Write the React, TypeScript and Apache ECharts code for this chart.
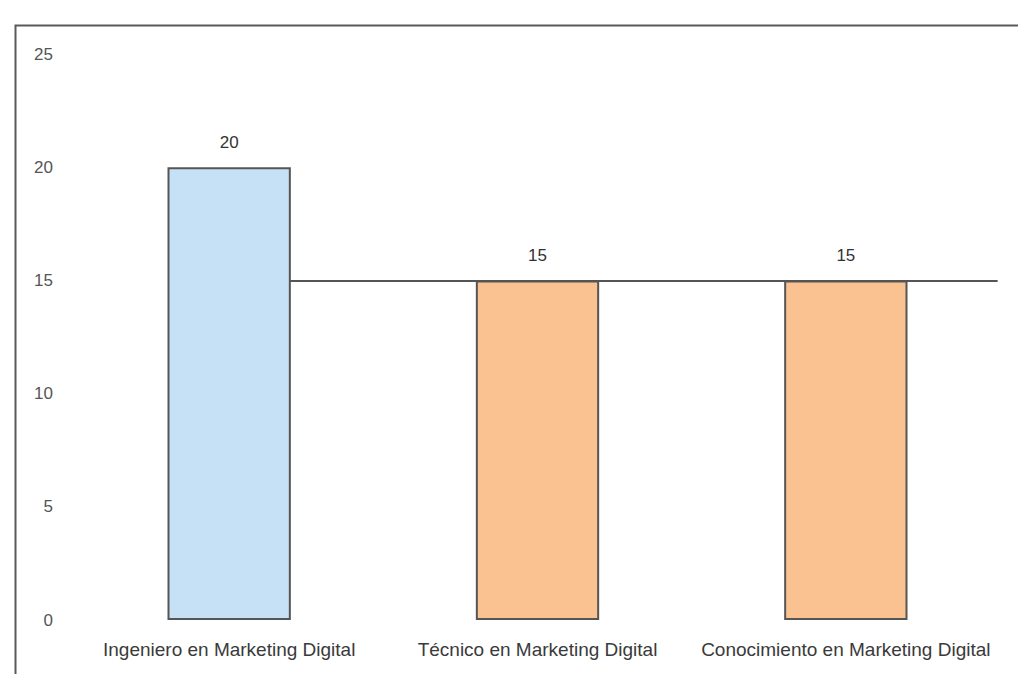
import React, { useEffect, useRef } from "react";
import * as echarts from "echarts";

const categories = [
  "Ingeniero en Marketing Digital",
  "Técnico en Marketing Digital",
  "Conocimiento en Marketing Digital",
];
const values = [20, 15, 15];
const barColors = ["#c6e0f6", "#f9c290", "#f9c290"];
const referenceValue = 15;
const yMin = 0;
const yMax = 25;
const yStep = 5;

export default function App() {
  const ref = useRef<HTMLDivElement>(null);
  useEffect(() => {
    if (!ref.current) return;
    const chart = echarts.init(ref.current, null, { renderer: "svg" });
    chart.setOption({
      animation: false,
      backgroundColor: "#ffffff",
      textStyle: { fontFamily: "Liberation Sans, Arial, sans-serif" },
      grid: { left: 75, right: 18, top: 54, bottom: 54 },
      graphic: [
        {
          type: "rect",
          left: 13,
          top: 23,
          shape: { width: 1020, height: 660 },
          style: { fill: "none", stroke: "#5a5a5a", lineWidth: 2 },
          z: 0,
        },
      ],
      xAxis: {
        type: "category",
        data: categories,
        axisLine: { show: false },
        axisTick: { show: false },
        axisLabel: {
          color: "#3a3a3a",
          fontSize: 19,
          margin: 20,
          interval: 0,
        },
      },
      yAxis: {
        type: "value",
        min: yMin,
        max: yMax,
        interval: yStep,
        splitLine: { show: false },
        axisLine: { show: false },
        axisTick: { show: false },
        axisLabel: { color: "#555", fontSize: 17, margin: 22 },
      },
      series: [
        {
          type: "line",
          data: [],
          z: 1,
          markLine: {
            silent: true,
            z: 1,
            symbol: "none",
            label: { show: false },
            lineStyle: { color: "#555", width: 2, type: "solid" },
            data: [
              [
                { coord: [0, referenceValue] },
                { coord: [2, referenceValue], x: "98%" },
              ],
            ],
          },
        },
        {
          type: "bar",
          z: 3,
          barWidth: "40%",
          data: values.map((v, i) => ({
            value: v,
            itemStyle: {
              color: barColors[i],
              borderColor: "#555",
              borderWidth: 2,
            },
          })),
          label: {
            show: true,
            position: "top",
            distance: 16,
            color: "#333",
            fontSize: 17,
          },
        },
      ],
    });
    return () => chart.dispose();
  }, []);
  return (
    <div
      ref={ref}
      style={{ position: "fixed", left: 0, top: 0, width: 1018, height: 674 }}
    />
  );
}
